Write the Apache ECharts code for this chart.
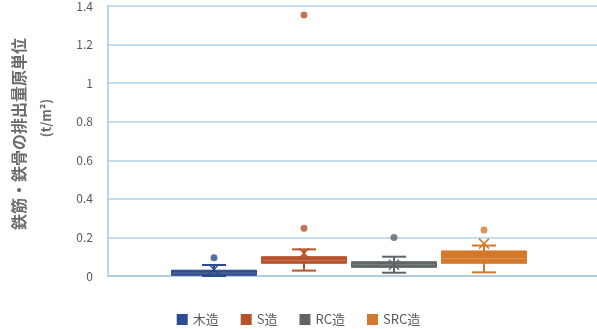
<!DOCTYPE html>
<html>
<head>
<meta charset="utf-8">
<style>
  html, body { margin: 0; padding: 0; background: #ffffff; }
  #chart { width: 597px; height: 329px; }
</style>
<script src="https://cdn.jsdelivr.net/npm/echarts@6/dist/echarts.min.js"></script>
</head>
<body>
<div id="chart"></div>
<script>
// Structure types and their box-plot statistics (t/m²)
const categories = ['木造', 'S造', 'RC造', 'SRC造'];
const lowWhisker = [0.0, 0.028, 0.017, 0.019];
const q1 = [0.004, 0.066, 0.045, 0.066];
const median = [0.015, 0.080, 0.058, 0.090];
const q3 = [0.030, 0.100, 0.074, 0.130];
const highWhisker = [0.057, 0.138, 0.100, 0.158];
const means = [0.035, 0.118, 0.058, 0.168];
const outliers = [[0.095], [0.247, 1.353], [0.200], [0.238]];
const yTicks = { min: 0, max: 1.4, interval: 0.2 };
const colors = ['#2d4b8e', '#b5532c', '#5f6466', '#d4792c'];

const FONT = '"Noto Sans CJK JP", "Noto Sans", sans-serif';

// Box, whiskers, caps, median and mean "X" for one category
function renderBox(params, api) {
  const i = api.value(0);
  const color = api.visual('color');
  const band = api.size([1, 0])[0];
  const boxW = band * 0.944;
  const capW = 24;
  const pLow = api.coord([i, api.value(1)]);
  const pQ1 = api.coord([i, api.value(2)]);
  const pMed = api.coord([i, api.value(3)]);
  const pQ3 = api.coord([i, api.value(4)]);
  const pHigh = api.coord([i, api.value(5)]);
  const pMean = api.coord([i, api.value(6)]);
  const cx = pQ1[0];
  const line = (x1, y1, x2, y2, w) => ({
    type: 'line',
    shape: { x1, y1, x2, y2 },
    style: { stroke: color, lineWidth: w || 2 }
  });
  const m = 5;
  return {
    type: 'group',
    children: [
      line(cx, pLow[1], cx, pHigh[1], 2),
      line(cx - capW / 2, pLow[1], cx + capW / 2, pLow[1], 2),
      line(cx - capW / 2, pHigh[1], cx + capW / 2, pHigh[1], 2),
      {
        type: 'rect',
        shape: { x: cx - boxW / 2, y: pQ3[1], width: boxW, height: Math.max(pQ1[1] - pQ3[1], 1) },
        style: { fill: color, stroke: color, lineWidth: 1 }
      },
      {
        type: 'line',
        shape: { x1: cx - boxW / 2 + 1, y1: pMed[1], x2: cx + boxW / 2 - 1, y2: pMed[1] },
        style: { stroke: 'rgba(255,255,255,0.22)', lineWidth: 1 }
      },
      line(cx - m, pMean[1] - m, cx + m, pMean[1] + m, 1.5),
      line(cx - m, pMean[1] + m, cx + m, pMean[1] - m, 1.5)
    ]
  };
}

const series = [];
categories.forEach((name, i) => {
  series.push({
    name: name,
    type: 'custom',
    xAxisIndex: 1,
    yAxisIndex: 1,
    itemStyle: { color: colors[i] },
    renderItem: renderBox,
    encode: { x: 0, y: [1, 2, 3, 4, 5, 6] },
    data: [[i, lowWhisker[i], q1[i], median[i], q3[i], highWhisker[i], means[i]]],
    z: 3
  });
  series.push({
    name: name,
    type: 'scatter',
    xAxisIndex: 1,
    yAxisIndex: 1,
    symbol: 'circle',
    symbolSize: 7,
    itemStyle: { color: colors[i] },
    data: outliers[i].map(v => [i, v]),
    z: 4
  });
});

const chart = echarts.init(document.getElementById('chart'), null, { renderer: 'canvas' });
chart.setOption({
  animation: false,
  backgroundColor: '#ffffff',
  grid: [
    { left: 108, right: 0, top: 6, height: 270 },
    { left: 169, width: 360, top: 6, height: 270 }
  ],
  xAxis: [
    {
      gridIndex: 0, type: 'value', min: 0, max: 1,
      axisLine: { show: true, onZero: false, lineStyle: { color: '#a9c6da', width: 1.5 } },
      axisTick: { show: false }, axisLabel: { show: false }, splitLine: { show: false }
    },
    {
      gridIndex: 1, type: 'category', data: categories, show: false
    }
  ],
  yAxis: [
    {
      gridIndex: 0, type: 'value',
      min: yTicks.min, max: yTicks.max, interval: yTicks.interval,
      axisLine: { show: true, lineStyle: { color: '#a9c6da', width: 1.5 } },
      axisTick: { show: false },
      axisLabel: { color: '#595959', fontSize: 12, fontFamily: FONT, margin: 15 },
      splitLine: { lineStyle: { color: '#b0d2ea', width: 1.5 } }
    },
    {
      gridIndex: 1, type: 'value',
      min: yTicks.min, max: yTicks.max, interval: yTicks.interval, show: false
    }
  ],
  legend: {
    data: categories,
    left: 'center',
    top: 308,
    icon: 'rect',
    itemWidth: 11,
    itemHeight: 11,
    itemGap: 22,
    textStyle: { color: '#595959', fontSize: 13, fontFamily: FONT }
  },
  graphic: [
    {
      type: 'text', x: 19, y: 134, rotation: Math.PI / 2,
      style: {
        text: '鉄筋・鉄骨の排出量原単位', fill: '#6b6b6b',
        font: 'bold 16px ' + FONT, textAlign: 'center', textVerticalAlign: 'middle'
      }
    },
    {
      type: 'text', x: 46, y: 118, rotation: Math.PI / 2,
      style: {
        text: '(t/m²)', fill: '#6b6b6b',
        font: 'bold 13px ' + FONT, textAlign: 'center', textVerticalAlign: 'middle'
      }
    }
  ],
  series: series
});
</script>
</body>
</html>
